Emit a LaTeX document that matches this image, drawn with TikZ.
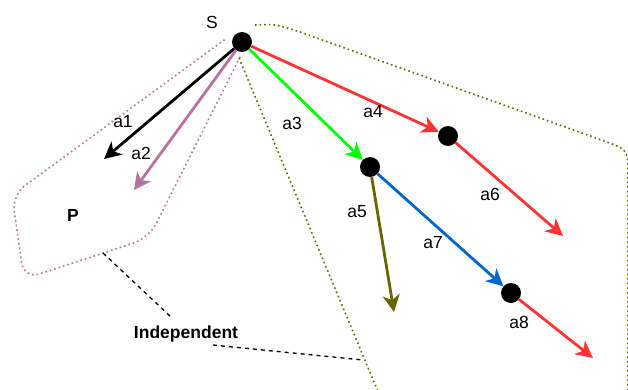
\documentclass[tikz,border=0pt]{standalone}
\usepackage{fontspec}
\setmainfont{Liberation Sans}
\usetikzlibrary{arrows.meta}
\definecolor{cred}{HTML}{FF3333}
\definecolor{cgreen}{HTML}{00FF00}
\definecolor{cblue}{HTML}{0066CC}
\definecolor{colive}{HTML}{666600}
\definecolor{cpurple}{HTML}{B5739D}
\tikzset{
  dot/.style={circle, fill=black, minimum size=20pt, inner sep=0pt},
  arr/.style={line width=2.8pt, -{Stealth[length=17pt, width=17pt, inset=5pt]}},
  lbl/.style={font=\fontsize{17.5}{20}\selectfont, inner sep=0pt},
  blbl/.style={font=\fontsize{17.5}{20}\selectfont\bfseries, inner sep=0pt},
  dotline/.style={line width=1.6pt, dash pattern=on 1.6pt off 3pt},
  dashline/.style={line width=1.3pt, dash pattern=on 4pt off 4pt},
}
\begin{document}
\begin{tikzpicture}[x=1pt, y=-1pt]
\useasboundingbox (0,0) rectangle (628,390);
\clip (0,0) rectangle (628,390);
% regions
\draw[dotline, cpurple, rounded corners=16pt] (240,57) -- (149,238) -- (24,279) -- (12,195) -- (227,38);
\draw[dotline, colive] (255,25) .. controls (275,24) .. (300,32) -- (607,142) .. controls (628,150) .. (628,175) -- (628,395);
\draw[dotline, colive] (239,58) -- (379,394);
% nodes
\node[dot] (S) at (242,42) {};
\node[dot] (n2) at (448,136) {};
\node[dot] (n3) at (370,167) {};
\node[dot] (n4) at (511,293) {};
\coordinate (t1) at (104,159);
\coordinate (t2) at (134,190);
\coordinate (t5) at (394,312);
\coordinate (t6) at (563,236);
\coordinate (t8) at (593,358);
% arrows
\draw[arr, black] (S) -- (t1);
\draw[arr, cpurple] (S) -- (t2);
\draw[arr, cgreen] (S) -- (n3);
\draw[arr, cred] (S) -- (n2);
\draw[arr, colive] (n3) -- (t5);
\draw[arr, cred] (n2) -- (t6);
\draw[arr, cblue] (n3) -- (n4);
\draw[arr, cred] (n4) -- (t8);
% labels
\node[lbl] (lS) at (212,22) {S};
\node[lbl] (l1) at (123,122) {a1};
\node[lbl] (l2) at (141,153) {a2};
\node[lbl] (l3) at (292,123) {a3};
\node[lbl] (l4) at (373,112) {a4};
\node[lbl] (l5) at (357,212) {a5};
\node[lbl] (l6) at (490,194) {a6};
\node[lbl] (l7) at (433,243) {a7};
\node[lbl] (l8) at (519,322) {a8};
\node[blbl] (P) at (73,215) {P};
\node[blbl] (ind) at (186,334) {Independent};
% dashed connectors
\coordinate (pA) at (103,253);
\coordinate (pB) at (171,317);
\coordinate (oA) at (213,345);
\coordinate (oB) at (363,360);
\draw[dashline] (pA) -- (pB);
\draw[dashline] (oA) -- (oB);
\end{tikzpicture}
\end{document}
